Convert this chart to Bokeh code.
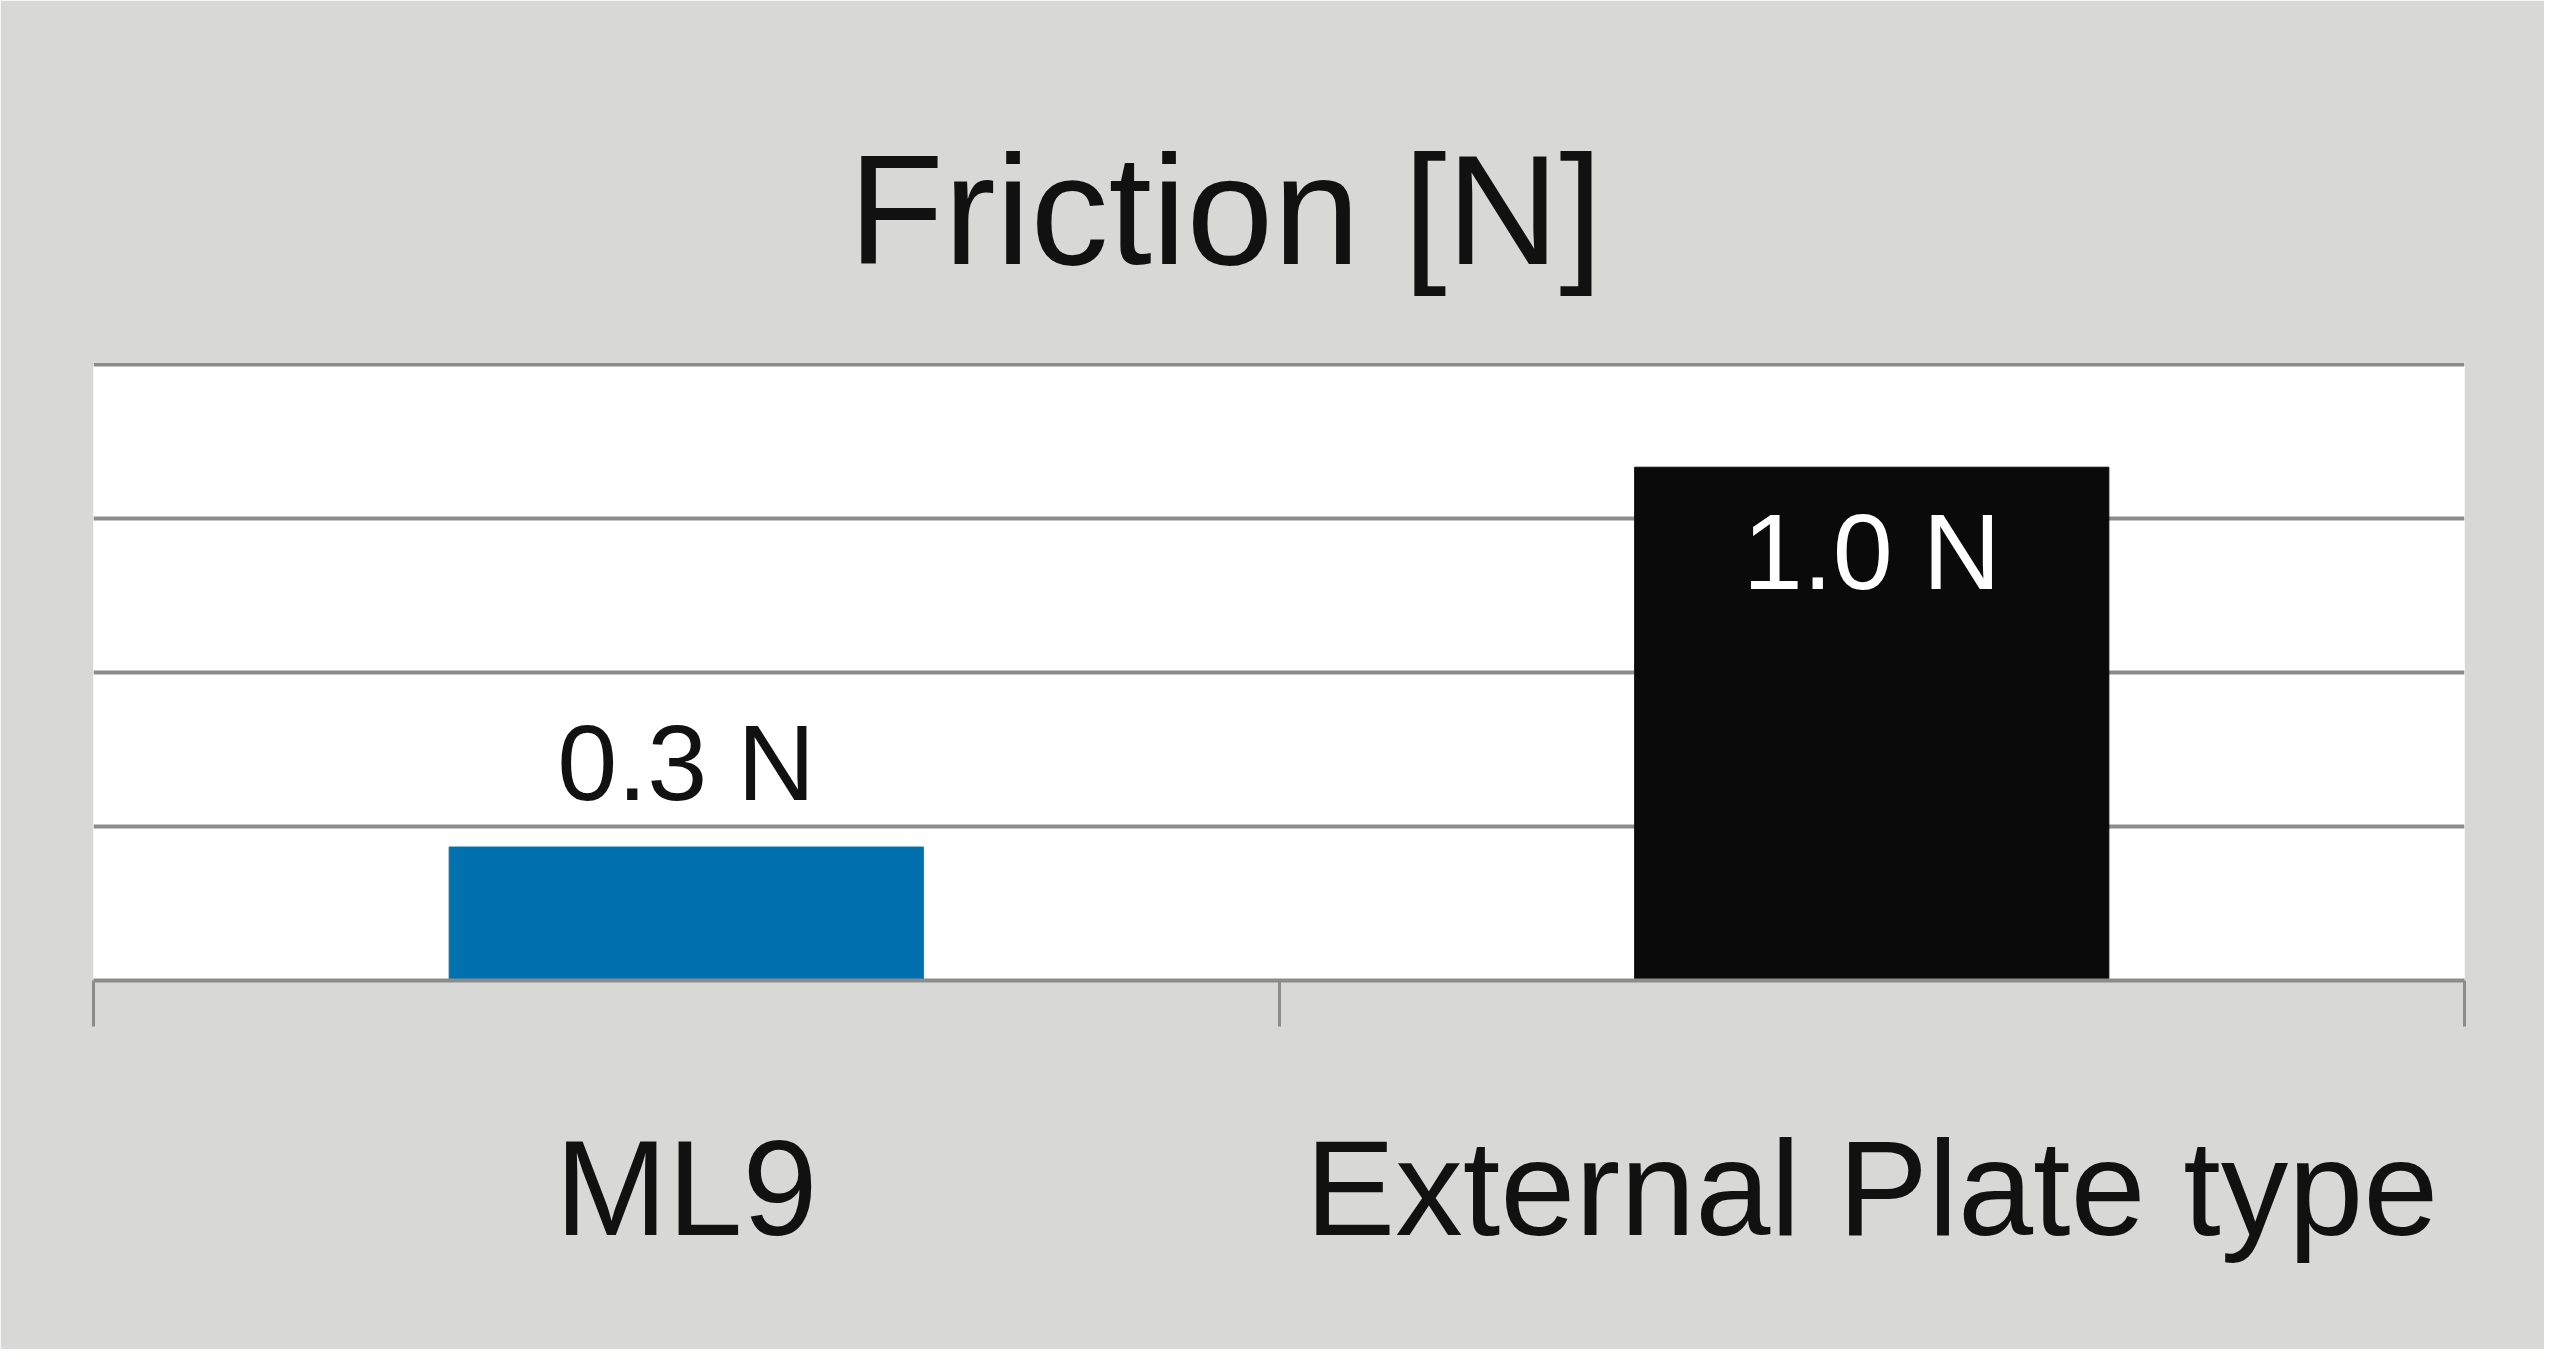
from bokeh.plotting import figure
from bokeh.models import ColumnDataSource, FixedTicker, LinearAxis, Label, Range1d
from bokeh.embed import file_html
from bokeh.resources import INLINE

# data
categories = ["ML9", "External Plate type"]
friction = [0.26, 1.0]
value_labels = ["0.3 N", "1.0 N"]
bar_colors = ["#0071ae", "#0a0a0a"]
grid_ticks = [0, 0.3, 0.6, 0.9, 1.2]

centers = [i + 0.5 for i in range(len(categories))]
bounds = list(range(len(categories) + 1))

source = ColumnDataSource(data=dict(x=centers, top=friction, color=bar_colors))

bg = "#d8d9d7"
grid_col = "#8c8c8c"
font = "Liberation Sans"

p = figure(
    width=2544,
    height=1349,
    x_range=Range1d(0, len(categories)),
    y_range=Range1d(0, 1.204),
    toolbar_location=None,
    tools="",
    output_backend="svg",
    min_border_left=93,
    min_border_right=80,
    min_border_top=362,
    min_border_bottom=369,
)

p.vbar(x="x", top="top", width=0.4, color="color", source=source)

# value labels: above the short bar, inside the tall one
for xc, v, txt in zip(centers, friction, value_labels):
    inside = v > 0.6
    p.add_layout(
        Label(
            x=xc,
            y=v,
            text=txt,
            text_align="center",
            text_baseline="alphabetic",
            y_offset=-84 if inside else 85,
            text_color="white" if inside else "#111111",
            text_font=font,
            text_font_size="108px",
        )
    )

# title
p.title.text = "Friction [N]"
p.title.align = "left"
p.title.offset = 755
p.title.standoff = 131
p.title.text_font = font
p.title.text_font_size = "156px"
p.title.text_font_style = "normal"
p.title.text_color = "#111111"

# style
p.background_fill_color = "white"
p.border_fill_color = bg
p.outline_line_color = None
p.yaxis.visible = False
p.xgrid.grid_line_color = None
p.ygrid.ticker = FixedTicker(ticks=grid_ticks)
p.ygrid.grid_line_color = grid_col
p.ygrid.grid_line_width = 4

# boundary ticks between categories
p.xaxis.ticker = FixedTicker(ticks=bounds)
p.xaxis.minor_tick_line_color = None
p.xaxis.axis_line_color = grid_col
p.xaxis.axis_line_width = 4
p.xaxis.major_tick_line_color = grid_col
p.xaxis.major_tick_line_width = 3
p.xaxis.major_tick_in = 0
p.xaxis.major_tick_out = 46
p.xaxis.major_label_text_font_size = "1px"
p.xaxis.major_label_text_alpha = 0
p.xaxis.major_label_standoff = 0

# category names
cat_axis = LinearAxis(
    ticker=FixedTicker(ticks=centers),
    major_label_overrides={c: name for c, name in zip(centers, categories)},
    axis_line_color=None,
    major_tick_line_color=None,
    minor_tick_line_color=None,
    major_tick_out=0,
    major_tick_in=0,
    major_label_standoff=86,
    major_label_text_font=font,
    major_label_text_font_size="135px",
    major_label_text_color="#111111",
)
p.add_layout(cat_axis, "below")

open("out.html", "w").write(file_html(p, INLINE))
